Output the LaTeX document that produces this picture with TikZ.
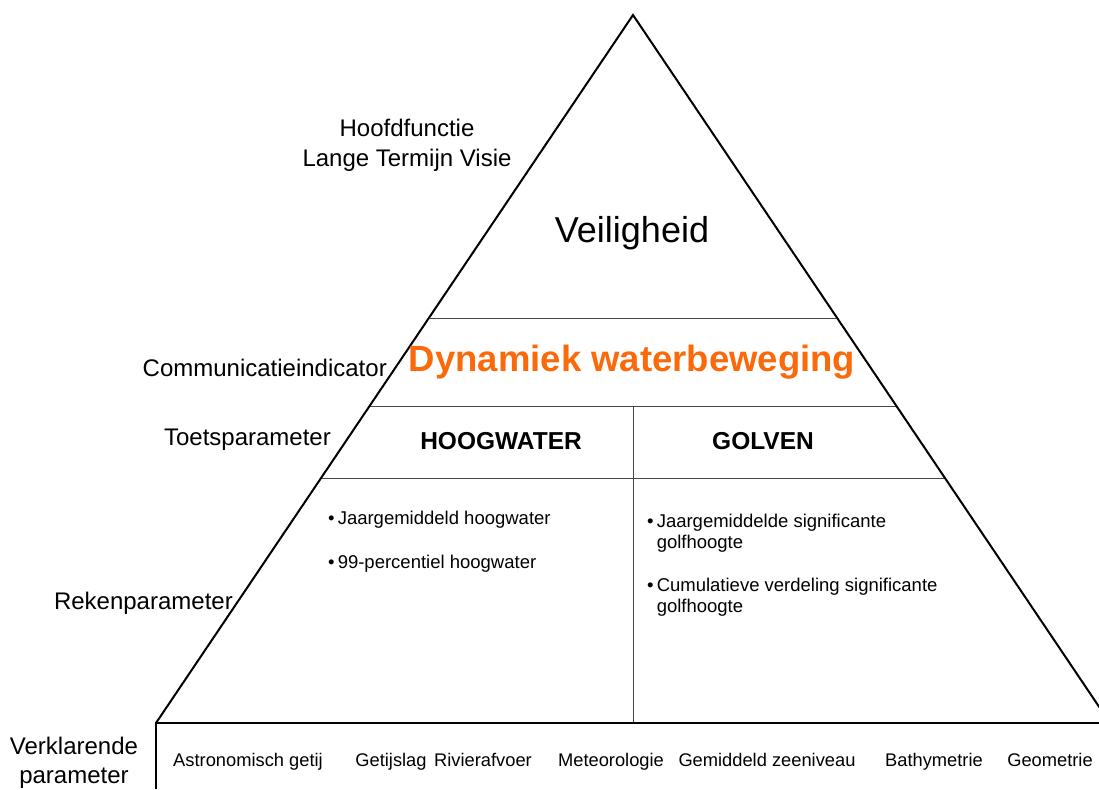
\documentclass[tikz,border=0pt]{standalone}
\usepackage{fontspec}
\setmainfont{Liberation Sans}
\definecolor{accent}{RGB}{250,105,10}
\definecolor{rule}{RGB}{70,70,70}
\begin{document}
\begin{tikzpicture}[x=1pt,y=-1pt,
  edge/.style={line width=2pt,line join=miter},
  band/.style={line width=1pt,draw=rule},
  side/.style={font=\fontsize{24}{28}\selectfont,inner sep=0pt},
  head/.style={font=\fontsize{24.5}{28}\selectfont\bfseries,inner sep=0pt},
  item/.style={font=\fontsize{18.5}{21.5}\selectfont,inner sep=0pt,anchor=west,align=left},
  cause/.style={font=\fontsize{18.3}{21}\selectfont,inner sep=0pt,anchor=base}]
\useasboundingbox (0,0) rectangle (1099,789);
\clip (0,0) rectangle (1099,789);

% pyramid corners
\coordinate (apex) at (633,15);
\coordinate (bl) at (156,723);
\coordinate (br) at (1110,723);

% level boundaries on the slanted sides
\coordinate (l1) at (430,318);  \coordinate (r1) at (836,318);
\coordinate (l2) at (370,406);  \coordinate (r2) at (896,406);
\coordinate (l3) at (321,478);  \coordinate (r3) at (945,478);
\coordinate (mtop) at (633,406); \coordinate (mbot) at (633,723);
\coordinate (floor) at (156,789);

% bands inside the pyramid
\draw[band] (l1) -- (r1);
\draw[band] (l2) -- (r2);
\draw[band] (l3) -- (r3);
\draw[band] (mtop) -- (mbot);

% outline
\draw[edge] (bl) -- (apex) -- (br);
\draw[edge] (floor) -- (bl) -- (br);

% level names on the left
\node[side,align=center] (hoofd) at (407,145) {Hoofdfunctie\\[2pt]Lange Termijn Visie};
\node[side,anchor=east] (comm) at (387,368) {Communicatieindicator};
\node[side,anchor=east] (toets) at (331,440) {Toetsparameter};
\node[side,anchor=east] (reken) at (233,603) {Rekenparameter};
\node[side,align=center] (verkl) at (74,763) {Verklarende\\[1pt]parameter};

% contents of the pyramid
\node[font=\fontsize{36}{40}\selectfont,inner sep=0pt] (veilig) at (632,233) {Veiligheid};
\node[font=\fontsize{36.5}{40}\selectfont\bfseries,text=accent,inner sep=0pt] (dyn) at (632,362) {Dynamiek waterbeweging};
\node[head] (hoog) at (501,441) {HOOGWATER};
\node[head] (golf) at (763,441) {GOLVEN};

\node[item] (b1) at (328,520) {\textbullet\,Jaargemiddeld hoogwater};
\node[item] (b2) at (328,564) {\textbullet\,99-percentiel hoogwater};
\node[item] (b3) at (647,533) {\textbullet\,Jaargemiddelde significante\\[-1pt]\phantom{\textbullet\,}golfhoogte};
\node[item] (b4) at (647,597) {\textbullet\,Cumulatieve verdeling significante\\[-1pt]\phantom{\textbullet\,}golfhoogte};

% explanatory parameters along the base
\node[cause] (c1) at (248,766) {Astronomisch getij};
\node[cause] (c2) at (391,766) {Getijslag};
\node[cause] (c3) at (483,766) {Rivierafvoer};
\node[cause] (c4) at (611,766) {Meteorologie};
\node[cause] (c5) at (767,766) {Gemiddeld zeeniveau};
\node[cause] (c6) at (934,766) {Bathymetrie};
\node[cause] (c7) at (1050,766) {Geometrie};
\end{tikzpicture}
\end{document}
